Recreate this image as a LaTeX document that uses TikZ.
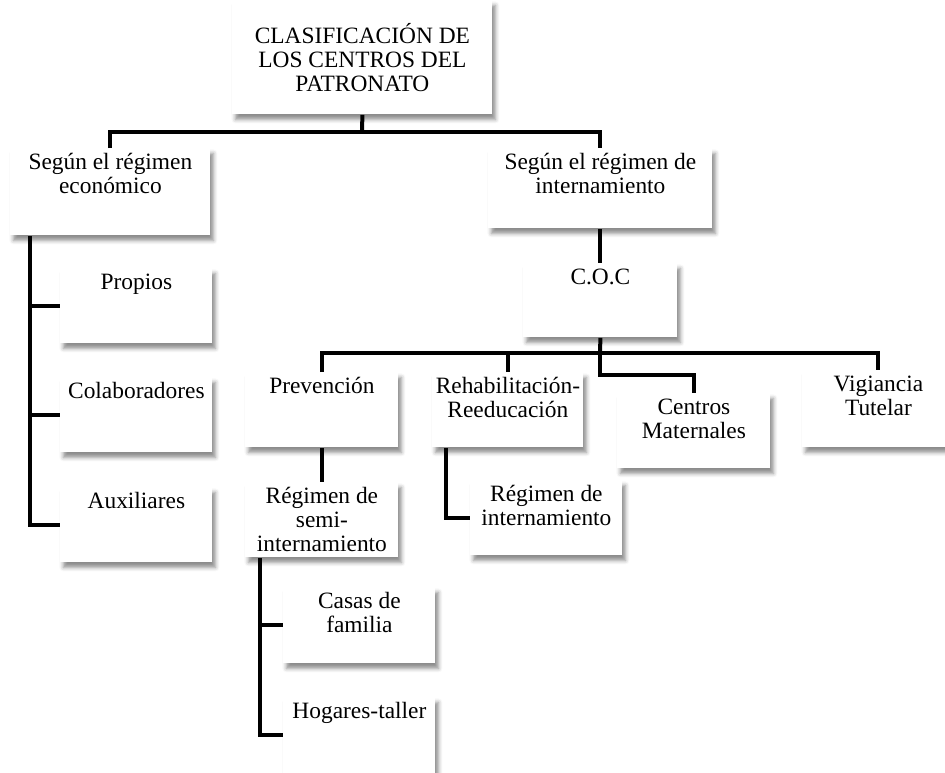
\documentclass[tikz,border=0pt]{standalone}
\usepackage{fontspec}
\setmainfont{Liberation Serif}
\usetikzlibrary{shadows.blur}

\newcommand{\textocaja}[3]{\parbox[t][#2][t]{#1}{\centering\strut #3}}

\tikzset{
  caja/.style={fill=white, anchor=north west, inner xsep=0pt, inner ysep=2pt,
    blur shadow={shadow xshift=1.5pt, shadow yshift=-2.5pt,
      shadow blur radius=2pt, shadow opacity=45}},
  rama/.style={line width=2pt}
}

\begin{document}
\begin{tikzpicture}[x=0.5pt, y=-0.5pt, font=\fontsize{11.7}{12}\selectfont]
\useasboundingbox (0,0) rectangle (945,772);

% raiz
\node[caja, inner sep=0pt, minimum width=130pt, minimum height=57pt, align=center]
  (raiz) at (232,0) {CLASIFICACIÓN DE\\LOS CENTROS DEL\\PATRONATO};

% regimen economico
\node[caja] (economico) at (10,148) {\textocaja{100pt}{39.5pt}{Según el régimen\\económico}};
\node[caja] (propios) at (60,268) {\textocaja{76pt}{33.5pt}{Propios}};
\node[caja] (colab) at (60,377) {\textocaja{76pt}{33.5pt}{Colaboradores}};
\node[caja] (aux) at (60,487) {\textocaja{76pt}{33.5pt}{Auxiliares}};

% regimen de internamiento
\node[caja] (internamiento) at (488,148) {\textocaja{112pt}{36pt}{Según el régimen de\\internamiento}};
\node[caja] (coc) at (523,263) {\textocaja{77pt}{33pt}{C.O.C}};
\node[caja] (prevencion) at (245,372) {\textocaja{76.5pt}{33.5pt}{Prevención}};
\node[caja] (rehab) at (432,372) {\textocaja{75.5pt}{33.5pt}{Rehabilitación-\\Reeducación}};
\node[caja] (maternales) at (617,393) {\textocaja{76.5pt}{33.5pt}{Centros\\Maternales}};
\node[caja] (vigiancia) at (802,370) {\textocaja{76pt}{34.5pt}{Vigiancia\\Tutelar}};
\node[caja] (semi) at (245,482) {\textocaja{76.5pt}{33.5pt}{Régimen de\\semi-\\internamiento}};
\node[caja] (internado) at (470,480) {\textocaja{76pt}{33.5pt}{Régimen de\\internamiento}};
\node[caja] (casas) at (283,587) {\textocaja{76pt}{34pt}{Casas de\\familia}};
\node[caja] (hogares) at (283,697) {\textocaja{76pt}{34pt}{Hogares-taller}};

% ramas
\coordinate (b1) at (362,132);
\draw[rama] (raiz.south) -- (b1);
\draw[rama] (economico.north) |- (b1) -| (internamiento.north);

\coordinate (e1) at ([xshift=10pt]economico.south west);
\draw[rama] (e1) |- (aux.west);
\draw[rama] (e1 |- propios.west) -- (propios.west);
\draw[rama] (e1 |- colab.west) -- (colab.west);

\draw[rama] (internamiento.south) -- (coc.north);
\coordinate (b2) at (600,353);
\coordinate (b3) at (600,375);
\draw[rama] (coc.south) -- (b2);
\draw[rama] (prevencion.north) |- (b2) -| (vigiancia.north);
\draw[rama] (rehab.north) -- (rehab.north |- b2);
\draw[rama] (b2) -- (b3) -| (maternales.north);

\draw[rama] (prevencion.south) -- (semi.north);
\draw[rama] ([xshift=7pt]rehab.south west) |- (internado.west);

\coordinate (s1) at ([xshift=7.5pt]semi.south west);
\draw[rama] (s1) |- (hogares.west);
\draw[rama] (s1 |- casas.west) -- (casas.west);
\end{tikzpicture}
\end{document}
